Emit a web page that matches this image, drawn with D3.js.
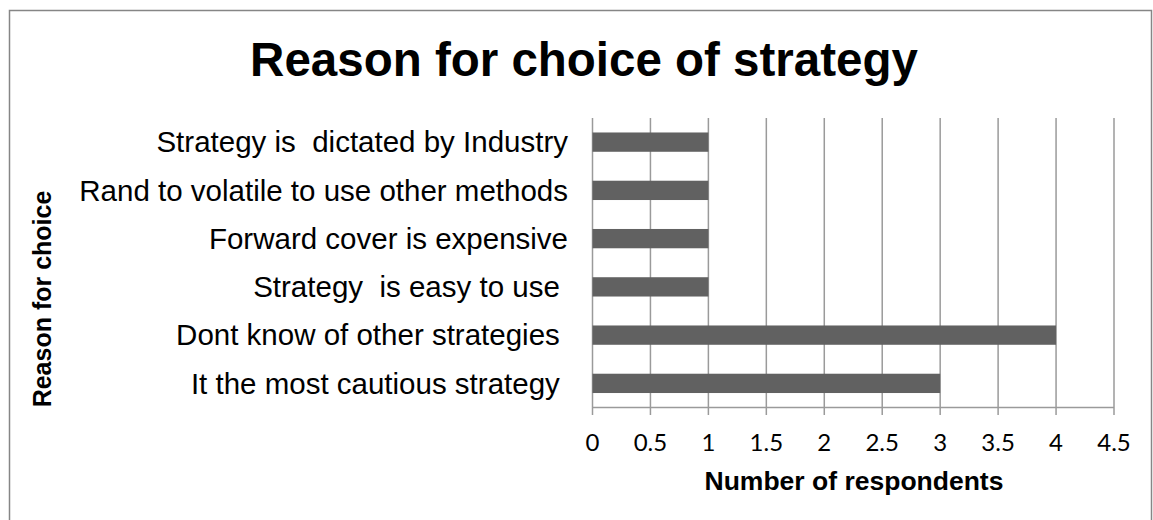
<!DOCTYPE html>
<html>
<head>
<meta charset="utf-8">
<script src="https://cdn.jsdelivr.net/npm/d3@7"></script>
<style>
  body { margin: 0; background: #fff; }
  text { white-space: pre; }
</style>
</head>
<body>
<svg width="1153" height="520"></svg>
<script>
// data, top bar first
var reasons = [
  "Strategy is  dictated by Industry",
  "Rand to volatile to use other methods",
  "Forward cover is expensive",
  "Strategy  is easy to use ",
  "Dont know of other strategies ",
  "It the most cautious strategy "
];
var respondents = [1, 1, 1, 1, 4, 3];
var xTicks = [0, 0.5, 1, 1.5, 2, 2.5, 3, 3.5, 4, 4.5];

var svg = d3.select("svg");

// outer frame
svg.append("rect")
  .attr("x", 9.5).attr("y", 10.5)
  .attr("width", 1142).attr("height", 530)
  .attr("fill", "none")
  .attr("stroke", "#868686")
  .attr("stroke-width", 1.5);

var plotLeft = 592.5, plotRight = 1114, plotTop = 118, plotBottom = 407.5;

var x = d3.scaleLinear().domain([0, 4.5]).range([plotLeft, plotRight]);
var y = d3.scaleBand().domain(reasons).range([plotTop, plotBottom]).paddingInner(0.6).paddingOuter(0.3);

// gridlines + tick marks
svg.append("g")
  .selectAll("line")
  .data(xTicks)
  .enter()
  .append("line")
    .attr("x1", function(d) { return x(d); })
    .attr("x2", function(d) { return x(d); })
    .attr("y1", plotTop)
    .attr("y2", plotBottom + 7.5)
    .attr("stroke", "#9a9a9a")
    .attr("stroke-width", 1.5);

// bottom axis line
svg.append("line")
  .attr("x1", plotLeft).attr("x2", plotRight)
  .attr("y1", plotBottom).attr("y2", plotBottom)
  .attr("stroke", "#9a9a9a")
  .attr("stroke-width", 1.5);

// bars
svg.append("g")
  .selectAll("rect")
  .data(reasons)
  .enter()
  .append("rect")
    .attr("x", x(0))
    .attr("y", function(d) { return y(d); })
    .attr("width", function(d, i) { return x(respondents[i]) - x(0); })
    .attr("height", y.bandwidth())
    .attr("fill", "#616161");

// category labels
svg.append("g")
  .selectAll("text")
  .data(reasons)
  .enter()
  .append("text")
    .attr("x", 568)
    .attr("y", function(d) { return y(d) + y.bandwidth() / 2; })
    .attr("dy", "0.35em")
    .attr("text-anchor", "end")
    .attr("font-family", "Liberation Sans, Arial, sans-serif")
    .attr("font-size", 29.5)
    .attr("fill", "#000")
    .text(function(d) { return d; });

// x tick labels
svg.append("g")
  .selectAll("text")
  .data(xTicks)
  .enter()
  .append("text")
    .attr("x", function(d) { return x(d); })
    .attr("y", 451)
    .attr("text-anchor", "middle")
    .attr("font-family", "Lato, sans-serif")
    .attr("font-size", 24)
    .attr("fill", "#000")
    .text(function(d) { return d; });

// title
svg.append("text")
  .attr("x", 584).attr("y", 76)
  .attr("text-anchor", "middle")
  .attr("font-family", "Liberation Sans, Arial, sans-serif")
  .attr("font-weight", "bold")
  .attr("font-size", 47.5)
  .text("Reason for choice of strategy");

// axis titles
svg.append("text")
  .attr("x", 854).attr("y", 490)
  .attr("text-anchor", "middle")
  .attr("font-family", "Liberation Sans, Arial, sans-serif")
  .attr("font-weight", "bold")
  .attr("font-size", 26.5)
  .text("Number of respondents");

svg.append("text")
  .attr("transform", "translate(51,299) rotate(-90)")
  .attr("text-anchor", "middle")
  .attr("font-family", "Liberation Sans, Arial, sans-serif")
  .attr("font-weight", "bold")
  .attr("font-size", 25)
  .text("Reason for choice");
</script>
</body>
</html>
